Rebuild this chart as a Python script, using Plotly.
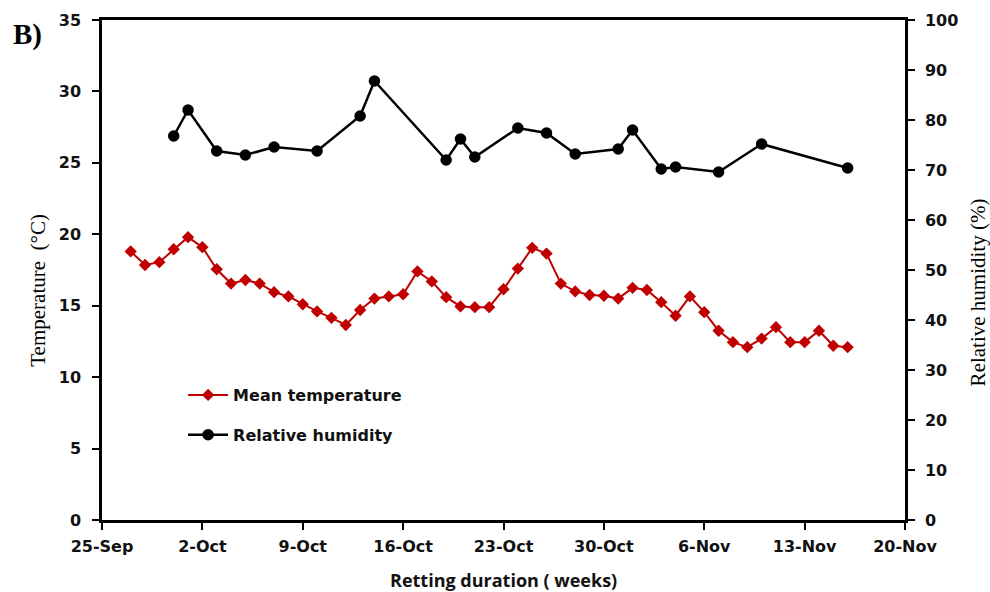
import plotly.graph_objects as go

# Daily mean air temperature during retting
temp_dates = [
    "2019-09-27", "2019-09-28", "2019-09-29", "2019-09-30",
    "2019-10-01", "2019-10-02", "2019-10-03", "2019-10-04", "2019-10-05",
    "2019-10-06", "2019-10-07", "2019-10-08", "2019-10-09", "2019-10-10",
    "2019-10-11", "2019-10-12", "2019-10-13", "2019-10-14", "2019-10-15",
    "2019-10-16", "2019-10-17", "2019-10-18", "2019-10-19", "2019-10-20",
    "2019-10-21", "2019-10-22", "2019-10-23", "2019-10-24", "2019-10-25",
    "2019-10-26", "2019-10-27", "2019-10-28", "2019-10-29", "2019-10-30",
    "2019-10-31", "2019-11-01", "2019-11-02", "2019-11-03", "2019-11-04",
    "2019-11-05", "2019-11-06", "2019-11-07", "2019-11-08", "2019-11-09",
    "2019-11-10", "2019-11-11", "2019-11-12", "2019-11-13", "2019-11-14",
    "2019-11-15", "2019-11-16",
]
mean_temperature = [
    18.8, 17.85, 18.05, 18.95,
    19.8, 19.1, 17.55, 16.55, 16.8,
    16.55, 15.95, 15.65, 15.1, 14.6,
    14.15, 13.65, 14.7, 15.5, 15.65,
    15.8, 17.4, 16.7, 15.6, 14.95,
    14.9, 14.9, 16.15, 17.6, 19.05,
    18.65, 16.55, 16.0, 15.75, 15.7,
    15.5, 16.25, 16.1, 15.25, 14.3,
    15.65, 14.55, 13.25, 12.45, 12.1,
    12.7, 13.5, 12.45, 12.45, 13.25,
    12.2, 12.1,
]

# Relative humidity readings
rh_dates = [
    "2019-09-30", "2019-10-01", "2019-10-03", "2019-10-05", "2019-10-07",
    "2019-10-10", "2019-10-13", "2019-10-14", "2019-10-19", "2019-10-20",
    "2019-10-21", "2019-10-24", "2019-10-26", "2019-10-28", "2019-10-31",
    "2019-11-01", "2019-11-03", "2019-11-04", "2019-11-07", "2019-11-10",
    "2019-11-16",
]
relative_humidity = [
    76.8, 82.0, 73.8, 73.0, 74.6,
    73.8, 80.8, 87.8, 72.0, 76.2,
    72.6, 78.4, 77.4, 73.2, 74.2,
    78.0, 70.2, 70.6, 69.6, 75.2,
    70.4,
]

x_range = ["2019-09-25", "2019-11-20"]
week_ms = 7 * 24 * 3600 * 1000

tick_font = dict(family="DejaVu Sans", size=16, color="#111111", weight="bold")

fig = go.Figure()

fig.add_trace(go.Scatter(
    x=temp_dates, y=mean_temperature, name="Mean temperature",
    mode="lines+markers", legendgroup="t",
    line=dict(color="#C00000", width=2),
    marker=dict(symbol="diamond", size=9.5, color="#C00000"),
    yaxis="y",
))
fig.add_trace(go.Scatter(
    x=rh_dates, y=relative_humidity, name="Relative humidity",
    mode="lines+markers", legendgroup="h",
    line=dict(color="#000000", width=2.5),
    marker=dict(symbol="circle", size=11.5, color="#000000"),
    yaxis="y2",
))

fig.update_layout(
    width=990, height=592,
    margin=dict(l=102, r=85, t=20, b=72),
    paper_bgcolor="white", plot_bgcolor="white",
    showlegend=True,
    legend=dict(
        x=0.101, y=0.284, xanchor="left", yanchor="top",
        bgcolor="rgba(0,0,0,0)", tracegroupgap=16,
        font=dict(family="DejaVu Sans", size=16, color="#111111", weight="bold"),
        itemwidth=40,
    ),
    xaxis=dict(
        type="date", range=x_range, tick0=x_range[0], dtick=week_ms,
        tickformat="%-d-%b", showgrid=False, zeroline=False,
        showline=True, linecolor="black", linewidth=2.5, mirror=True,
        ticks="outside", ticklen=7, tickwidth=2, tickcolor="black",
        tickfont=tick_font, ticklabelstandoff=3,
    ),
    yaxis=dict(
        range=[0, 35], dtick=5, showgrid=False, zeroline=False,
        showline=True, linecolor="black", linewidth=2.5,
        ticks="outside", ticklen=7, tickwidth=2, tickcolor="black",
        tickfont=tick_font, ticklabelstandoff=8,
    ),
    yaxis2=dict(
        range=[0, 100], dtick=10, overlaying="y", side="right",
        showgrid=False, zeroline=False,
        showline=True, linecolor="black", linewidth=2.5,
        ticks="outside", ticklen=7, tickwidth=2, tickcolor="black",
        tickfont=tick_font, ticklabelstandoff=7,
    ),
    annotations=[
        dict(text="<b>B)</b>", xref="paper", yref="paper",
             x=-0.113, y=0.972, xanchor="left", yanchor="middle", showarrow=False,
             font=dict(family="Liberation Serif", size=29, color="black")),
        dict(text="Temperature  (°C)", xref="paper", yref="paper",
             x=-0.08, y=0.46, xanchor="center", yanchor="middle", showarrow=False,
             textangle=-90,
             font=dict(family="Liberation Serif", size=21, color="black")),
        dict(text="Relative humidity (%)", xref="paper", yref="paper",
             x=1.092, y=0.455, xanchor="center", yanchor="middle", showarrow=False,
             textangle=-90,
             font=dict(family="Liberation Serif", size=21, color="black")),
        dict(text="Retting duration ( weeks)", xref="paper", yref="paper",
             x=0.5, y=-0.12, xanchor="center", yanchor="middle", showarrow=False,
             font=dict(family="Open Sans", size=18, color="#111111", weight=700)),
    ],
)

fig.write_html("out.html")
